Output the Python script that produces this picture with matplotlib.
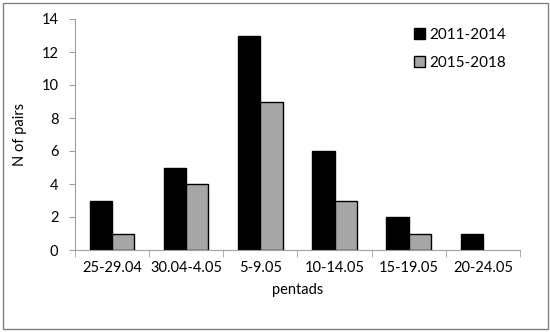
import matplotlib.pyplot as plt
import numpy as np

plt.rcParams['font.family'] = ['Lato', 'DejaVu Sans']

pentads = ['25-29.04', '30.04-4.05', '5-9.05', '10-14.05', '15-19.05', '20-24.05']
pairs_2011_2014 = [3, 5, 13, 6, 2, 1]
pairs_2015_2018 = [1, 4, 9, 3, 1, 0]

fig = plt.figure(figsize=(5.5, 3.32), dpi=100)
ax = fig.add_axes([75/550, 1 - 250/332, 445/550, 231/332])

x = np.arange(len(pentads))
w = 0.3
ax.bar(x - w/2, pairs_2011_2014, w, color='black', edgecolor='black', linewidth=1, label='2011-2014')
edges = ['black' if v > 0 else 'none' for v in pairs_2015_2018]
ax.bar(x + w/2, pairs_2015_2018, w, color='#a6a6a6', edgecolor=edges, linewidth=1, label='2015-2018')

ax.set_xlim(-0.5, len(pentads) - 0.5)
ax.set_ylim(0, 14)
ax.set_yticks(range(0, 15, 2))
ax.set_xticks(x)
ax.set_xticklabels(pentads)
ax.set_xticks(np.arange(-0.5, len(pentads)), minor=True)
ax.tick_params(axis='x', which='major', length=0, pad=8, labelsize=10.5)
ax.tick_params(axis='x', which='minor', length=5, color='#a0a0a0')
ax.tick_params(axis='y', length=4, color='#a0a0a0', labelsize=10.5, pad=8)

for s in ['top', 'right']:
    ax.spines[s].set_visible(False)
for s in ['left', 'bottom']:
    ax.spines[s].set_color('#a0a0a0')

ax.set_xlabel('pentads', fontsize=10.5, labelpad=6)
ax.set_ylabel('N of pairs', fontsize=10.5, labelpad=10)

leg = ax.legend(loc='upper right', bbox_to_anchor=(1.0, 1.02), frameon=False, fontsize=11,
                handlelength=0.7, handleheight=0.7, handletextpad=0.3, labelspacing=0.9)
leg.legend_handles[1].set_edgecolor('black')

fig.patches.append(plt.Rectangle((3/550, 3/332), 545/550, 326/332, transform=fig.transFigure,
                                 fill=False, edgecolor='#808080', linewidth=1))

fig.savefig('out.png', dpi=100)
